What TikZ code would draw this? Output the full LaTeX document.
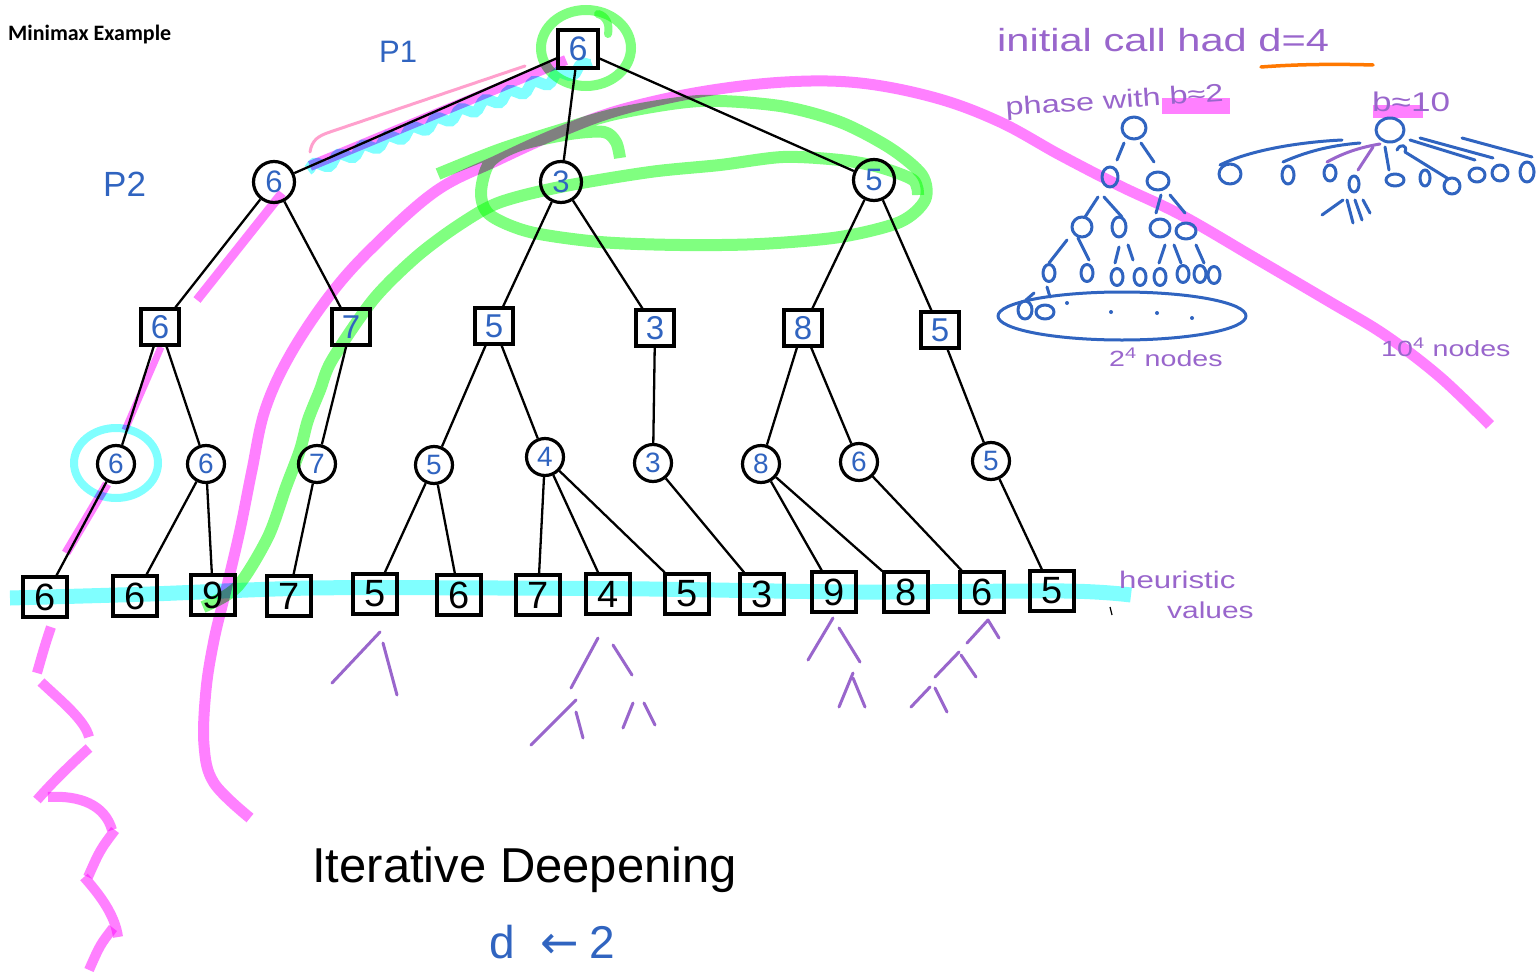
\documentclass[tikz,border=0pt]{standalone}
\usepackage{fontspec}
\setmainfont{Liberation Sans}
\newfontfamily\hand[FakeStretch=1.3]{Liberation Sans}
\newfontfamily\titlef{Carlito}
\newfontfamily\symf{DejaVu Sans}
\usetikzlibrary{decorations.pathmorphing}
\definecolor{hlpink}{RGB}{255,128,255}
\definecolor{hlcyan}{RGB}{128,255,255}
\definecolor{hlgreen}{RGB}{128,255,128}
\definecolor{thinpink}{RGB}{255,160,205}
\definecolor{inkblue}{RGB}{48,100,192}
\definecolor{inkpurple}{RGB}{153,102,204}
\definecolor{inkorange}{RGB}{255,120,0}
\tikzset{
  rootbox/.style={draw, line width=3.2pt, minimum width=40pt, minimum height=38pt, inner sep=0pt, text=inkblue, font=\fontsize{34}{34}\selectfont},
  maxbox/.style={draw, line width=3.2pt, minimum width=38pt, minimum height=36pt, inner sep=0pt, text=inkblue, font=\fontsize{33}{33}\selectfont},
  mincirc/.style={circle, draw, line width=3.2pt, minimum size=41pt, inner sep=0pt, text=inkblue, font=\fontsize{31}{31}\selectfont},
  mincircs/.style={circle, draw, line width=3.2pt, minimum size=37pt, inner sep=0pt, text=inkblue, font=\fontsize{28}{28}\selectfont},
  leafbox/.style={draw, line width=3.2pt, minimum width=44pt, minimum height=40pt, inner sep=0pt, text=black, font=\fontsize{38}{38}\selectfont},
  edge/.style={draw=black, line width=2.3pt},
  hl/.style={line width=11pt, line cap=butt, line join=round},
  pen/.style={line width=3pt, line cap=round, line join=round},
  txt/.style={inner sep=0pt, anchor=base west}
}
\begin{document}
\begin{tikzpicture}[x=1pt,y=-1pt]
\useasboundingbox (0,0) rectangle (1538,971);
\fill[white] (0,0) rectangle (1538,971);

% ---------- highlighter strokes ----------
\begin{scope}[blend mode=multiply]
  % big magenta curve
  \draw[hl, hlpink] plot[smooth, tension=0.6] coordinates {(250,818) (214,783) (204,745) (206,690) (214,640) (226,590) (240,530) (252,470) (265,410) (290,355) (330,295) (373,247) (436,191) (498,160) (560,132) (620,110) (700,92) (785,82) (860,83) (936,98) (1000,122) (1060,155) (1120,186) (1181,215) (1255,258) (1330,302) (1385,335) (1440,377) (1490,425)};
  % magenta zig-zag at left
  \draw[hl, hlpink, line width=10pt] (51,627) .. controls (45,645) .. (37,673);
  \draw[hl, hlpink, line width=10pt] (41,682) .. controls (60,700) and (85,720) .. (89,737);
  \draw[hl, hlpink, line width=10pt] (89,748) .. controls (70,765) and (50,785) .. (37,800);
  \draw[hl, hlpink, line width=10pt] (48,797) .. controls (80,795) and (105,805) .. (112,830);
  \draw[hl, hlpink, line width=10pt] (115,830) .. controls (100,850) .. (88,877);
  \draw[hl, hlpink, line width=10pt] (84,877) .. controls (100,895) and (115,915) .. (118,937);
  \draw[hl, hlpink, line width=10pt] (113,928) .. controls (100,945) .. (89,970);
  % magenta along the principal variation
  \draw[hl, hlpink, line width=9pt] (282,193) -- (197,300);
  \draw[hl, hlpink, line width=7pt] (161,347) -- (125,430);
  \draw[hl, hlpink, line width=9pt] (107,484) -- (66,553);
  % cyan strokes
  \draw[hl, hlcyan, line width=15pt] plot[smooth] coordinates {(10,598) (150,594) (312,588) (500,588) (650,589) (857,592) (1065,591) (1131,595)};
  \draw[hlcyan, line width=8pt] (116,463) ellipse [x radius=42, y radius=35];
  \draw[hlcyan, line width=11pt, decorate, decoration={snake, amplitude=4pt, segment length=26pt}] (308,170) -- (592,64);
  \draw[hl, hlpink, line width=10pt] (310,166) -- (566,60);
  % green strokes
  \draw[hlgreen, line width=10pt] (586,48) ellipse [x radius=45, y radius=38];
  \draw[hlgreen, line width=8pt, line cap=round] (598,14) .. controls (606,16) and (610,24) .. (608,34);
  \draw[hl, hlgreen, line width=12pt] plot[smooth] coordinates {(203,607) (237,587) (268,537) (286,487) (300,450) (308,420) (320,390) (332,360) (373,300) (415,258) (456,227) (498,203) (560,187) (650,172) (720,165) (783,157) (840,160) (879,167) (913,180) (918,195)};
  \draw[hl, hlgreen, line width=12pt] plot[smooth] coordinates {(438,174) (498,150) (560,130) (620,113) (700,101) (780,106) (840,122) (890,148) (922,175) (925,200) (900,222) (840,237) (760,244) (680,245) (600,242) (530,232) (490,215) (481,193) (490,162) (520,145) (570,134) (604,132) (616,142) (620,158)};
  % highlights on the right
  \fill[hlpink] (1162,98) rectangle (1230,114);
  \fill[hlpink] (1373,105) rectangle (1423,118);
\end{scope}
\draw[thinpink, line width=3pt, line cap=round] (310,152) .. controls (312,140) and (318,136) .. (330,132) -- (525,66);

% ---------- title and labels ----------
\node[txt, font=\titlef\bfseries\fontsize{22}{22}\selectfont] (title) at (8,41) {Minimax Example};
\node[txt, text=inkblue, font=\fontsize{31}{31}\selectfont] (p1) at (379,63) {P1};
\node[txt, text=inkblue, font=\fontsize{35}{35}\selectfont] (p2) at (103,196) {P2};

% ---------- game tree ----------
\node[rootbox] (r) at (578,49) {6};
\node[mincirc] (a) at (274,182) {6};
\node[mincirc] (b) at (561,182) {3};
\node[mincirc] (c) at (874,180) {5};
\node[maxbox] (a1) at (160,327) {6};
\node[maxbox] (a2) at (351,327) {7};
\node[maxbox] (b1) at (494,326) {5};
\node[maxbox] (b2) at (655,328) {3};
\node[maxbox] (c1) at (803,328) {8};
\node[maxbox] (c2) at (940,330) {5};
\node[mincircs] (a1x) at (116,464) {6};
\node[mincircs] (a1y) at (206,464) {6};
\node[mincircs] (a2x) at (317,464) {7};
\node[mincircs] (b1x) at (434,465) {5};
\node[mincircs] (b1y) at (545,457) {4};
\node[mincircs] (b2x) at (653,463) {3};
\node[mincircs] (c1x) at (761,464) {8};
\node[mincircs] (c1y) at (859,462) {6};
\node[mincircs] (c2x) at (991,461) {5};
\node[leafbox] (l1) at (45,597) {6};
\node[leafbox] (l2) at (135,596) {6};
\node[leafbox] (l3) at (213,595) {9};
\node[leafbox] (l4) at (289,596) {7};
\node[leafbox] (l5) at (375,594) {5};
\node[leafbox] (l6) at (459,595) {6};
\node[leafbox] (l7) at (538,595) {7};
\node[leafbox] (l8) at (608,594) {4};
\node[leafbox] (l9) at (687,594) {5};
\node[leafbox] (l10) at (762,594) {3};
\node[leafbox] (l11) at (834,592) {9};
\node[leafbox] (l12) at (906,592) {8};
\node[leafbox] (l13) at (982,592) {6};
\node[leafbox] (l14) at (1052,591) {5};

\draw[edge] (r) -- (a);
\draw[edge] (r) -- (b);
\draw[edge] (r) -- (c);
\draw[edge] (a) -- (a1);
\draw[edge] (a) -- (a2);
\draw[edge] (b) -- (b1);
\draw[edge] (b) -- (b2);
\draw[edge] (c) -- (c1);
\draw[edge] (c) -- (c2);
\draw[edge] (a1) -- (a1x);
\draw[edge] (a1) -- (a1y);
\draw[edge] (a2) -- (a2x);
\draw[edge] (b1) -- (b1x);
\draw[edge] (b1) -- (b1y);
\draw[edge] (b2) -- (b2x);
\draw[edge] (c1) -- (c1x);
\draw[edge] (c1) -- (c1y);
\draw[edge] (c2) -- (c2x);
\draw[edge] (a1x) -- (l1);
\draw[edge] (a1y) -- (l2);
\draw[edge] (a1y) -- (l3);
\draw[edge] (a2x) -- (l4);
\draw[edge] (b1x) -- (l5);
\draw[edge] (b1x) -- (l6);
\draw[edge] (b1y) -- (l7);
\draw[edge] (b1y) -- (l8);
\draw[edge] (b1y) -- (l9);
\draw[edge] (b2x) -- (l10);
\draw[edge] (c1x) -- (l11);
\draw[edge] (c1x) -- (l12);
\draw[edge] (c1y) -- (l13);
\draw[edge] (c2x) -- (l14);
\draw[black, line width=1.2pt] (1110,607) -- (1112,615);

% ---------- purple notes ----------
\node[txt, text=inkpurple, font=\hand\fontsize{32}{32}\selectfont] (init) at (997,52) {initial call had d=4};
\draw[inkorange, pen, line width=3.5pt] (1261,67) .. controls (1300,64) and (1340,64) .. (1373,65);
\node[txt, text=inkpurple, font=\hand\fontsize{25}{25}\selectfont, rotate=4] (phase) at (1006,116) {phase with b≈2};
\node[txt, text=inkpurple, font=\hand\fontsize{27}{27}\selectfont] (b10) at (1372,112) {b≈10};
\node[txt, text=inkpurple, font=\hand\fontsize{22}{22}\selectfont] (n2) at (1109,366) {2\textsuperscript{4} nodes};
\node[txt, text=inkpurple, font=\hand\fontsize{22}{22}\selectfont] (n10) at (1381,356) {10\textsuperscript{4} nodes};
\node[txt, text=inkpurple, font=\hand\fontsize{24}{24}\selectfont] (heur) at (1119,588) {heuristic};
\node[txt, text=inkpurple, font=\hand\fontsize{23}{23}\selectfont] (vals) at (1167,618) {values};

% small purple subtrees below the leaves
\begin{scope}[inkpurple, pen]
  \draw (332,683) -- (380,632);  \draw (383,643) -- (397,695);
  \draw (571,688) -- (598,638);  \draw (613,645) -- (632,675);
  \draw (531,745) -- (576,700);  \draw (576,712) -- (583,738);
  \draw (623,728) -- (633,703);  \draw (644,703) -- (655,725);
  \draw (808,660) -- (833,618);  \draw (839,628) -- (860,662);
  \draw (839,707) -- (853,673);  \draw (853,678) -- (865,707);
  \draw (967,643) -- (988,620) -- (999,638);
  \draw (935,677) -- (959,652);  \draw (961,655) -- (976,677);
  \draw (911,707) -- (930,687);  \draw (935,688) -- (947,712);
\end{scope}

% ---------- small blue trees ----------
\begin{scope}[inkblue, pen]
  % b = 2 tree
  \draw (1134,128) ellipse [x radius=12, y radius=11];
  \draw (1110,177) ellipse [x radius=8, y radius=10];
  \draw (1158,181) ellipse [x radius=11, y radius=9];
  \draw (1082,227) ellipse [x radius=10, y radius=10];
  \draw (1119,227) ellipse [x radius=7, y radius=10];
  \draw (1160,228) ellipse [x radius=10, y radius=9];
  \draw (1186,231) ellipse [x radius=10, y radius=8];
  \foreach \x/\y in {1049/273,1087/273,1117/277,1140/277,1160/277,1183/274,1200/274,1214/275}
    \draw (\x,\y) ellipse [x radius=6, y radius=8.5];
  \draw (1025,310) ellipse [x radius=7, y radius=9];
  \draw (1045,312) ellipse [x radius=9, y radius=7];
  \foreach \x/\y in {1067/303,1111/312,1157/313,1192/318}
    \fill (\x,\y) circle [radius=2];
  \draw (1117,160) -- (1124,143);  \draw (1141,143) -- (1154,162);
  \draw (1098,197) -- (1085,217);  \draw (1104,197) -- (1122,217);
  \draw (1161,195) -- (1156,213);  \draw (1170,195) -- (1185,213);
  \draw (1067,240) -- (1049,263);  \draw (1078,238) -- (1089,260);
  \draw (1119,247) -- (1115,263);  \draw (1128,245) -- (1133,260);
  \draw (1165,245) -- (1159,263);  \draw (1174,245) -- (1181,263);
  \draw (1196,245) -- (1204,263);
  \draw (1034,293) -- (1026,300);  \draw (1047,287) -- (1050,297);
  \draw (1122,316) ellipse [x radius=124, y radius=24];
  % b = 10 tree
  \draw (1390,130) ellipse [x radius=14, y radius=12];
  \foreach \x/\y/\rx/\ry in {1230/174/11/10,1288/175/6/9,1330/173/6/8,1354/184/5/8,1395/180/9/6,1425/178/5/8,1452/186/8/8,1477/175/8/7,1500/173/8/8,1527/172/7/10}
    \draw (\x,\y) ellipse [x radius=\rx, y radius=\ry];
  \draw (1220,165) .. controls (1250,150) and (1300,142) .. (1342,140);
  \draw (1283,162) .. controls (1310,150) and (1335,145) .. (1360,143);
  \draw (1389,170) -- (1385,147);
  \draw (1397,150) .. controls (1400,143) and (1408,145) .. (1405,152) -- (1447,178);
  \draw (1410,140) -- (1475,160);
  \draw (1420,138) -- (1493,158);
  \draw (1462,138) -- (1532,157);
  \draw (1322,215) -- (1343,200);
  \draw (1347,200) -- (1353,223);
  \draw (1355,200) -- (1362,220);
  \draw (1363,200) -- (1370,213);
\end{scope}
\begin{scope}[inkpurple, pen]
  \draw (1327,162) .. controls (1345,152) and (1362,147) .. (1380,144);
  \draw (1358,170) -- (1373,147);
\end{scope}

% ---------- bottom text ----------
\node[txt, font=\fontsize{49}{49}\selectfont] (itd) at (312,882) {Iterative Deepening};
\node[txt, text=inkblue, font=\fontsize{46}{46}\selectfont] (dset) at (489,958) {d\hspace{26pt}{\symf ←}\hspace{10pt}2};
\end{tikzpicture}
\end{document}
